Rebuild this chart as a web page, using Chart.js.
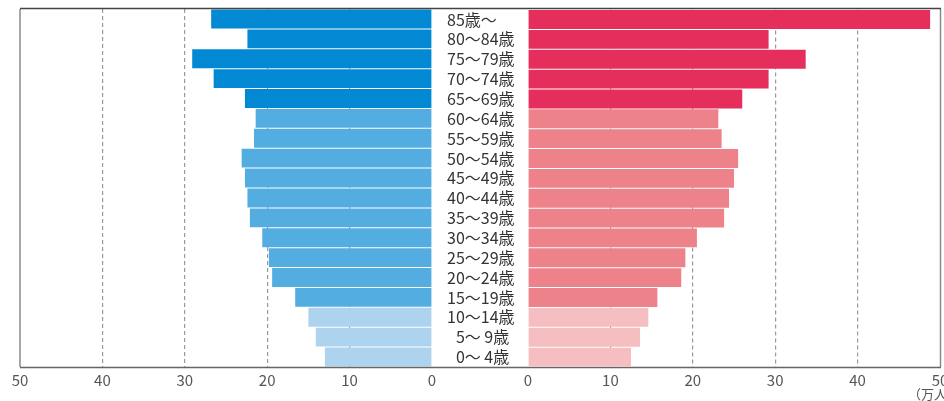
<!DOCTYPE html>
<html>
<head>
<meta charset="utf-8">
<script src="https://cdn.jsdelivr.net/npm/chart.js@4"></script>
<style>
  html, body { margin: 0; padding: 0; background: #fff; overflow: hidden; }
  #wrap { position: relative; width: 944px; height: 401px; overflow: hidden; }
  #pyr-male { position: absolute; left: 0; top: 0; }
  #pyr-female { position: absolute; left: 432px; top: 0; }
</style>
</head>
<body>
<div id="wrap">
  <canvas id="pyr-male" width="944" height="401"></canvas>
  <canvas id="pyr-female" width="540" height="401"></canvas>
</div>
<script>
/* ── Data (万人) ───────────────────────────────────── */
const ageLabels = ['85歳～', '80～84歳', '75～79歳', '70～74歳', '65～69歳', '60～64歳',
  '55～59歳', '50～54歳', '45～49歳', '40～44歳', '35～39歳', '30～34歳', '25～29歳',
  '20～24歳', '15～19歳', '10～14歳', '\u20075～ 9歳', '\u20070～ 4歳'];
const maleValues = [26.8, 22.4, 29.1, 26.5, 22.7, 21.4, 21.6, 23.1, 22.7, 22.4,
  22.1, 20.6, 19.8, 19.4, 16.6, 15.0, 14.1, 13.0];
const femaleValues = [48.8, 29.2, 33.7, 29.2, 26.0, 23.1, 23.5, 25.5, 25.0, 24.4,
  23.8, 20.5, 19.1, 18.6, 15.7, 14.6, 13.6, 12.5];
const axisTicks = [0, 10, 20, 30, 40, 50];

// age band of each row: 0 = 65+, 1 = 15-64, 2 = 0-14
const ageBand = ageLabels.map((l, i) => (i < 5 ? 0 : i < 15 ? 1 : 2));
const maleColors = ['#0389d4', '#54ade1', '#aed3ef'];
const femaleColors = ['#e62e5d', '#ee828b', '#f5bec1'];

const FONT = "'Noto Sans CJK JP', 'Noto Sans', sans-serif";

function xScale(reverse) {
  return {
    type: 'linear',
    reverse,
    min: 0,
    max: 50,
    afterBuildTicks: (s) => { s.ticks = axisTicks.map((v) => ({ value: v })); },
    ticks: { color: '#555', font: { family: FONT, size: 15 }, padding: 4, maxRotation: 0, autoSkip: false },
    grid: {
      drawTicks: false,
      color: (c) => (c.tick && (c.tick.value === 0 || c.tick.value === 50) ? 'rgba(0,0,0,0)' : '#9a9a9a'),
      lineWidth: 1.2,
    },
    border: { display: false, dash: [4, 3] },
  };
}

// frame + unit label, drawn on the full-width male canvas
const framePlugin = {
  id: 'frame',
  afterDraw(chart) {
    const { ctx, chartArea } = chart;
    const top = chartArea.top, bottom = chartArea.bottom;
    ctx.save();
    ctx.lineWidth = 1.5;
    ctx.strokeStyle = '#8a8a8a';
    ctx.beginPath();
    ctx.moveTo(20, top); ctx.lineTo(20, bottom);
    ctx.moveTo(940.5, top); ctx.lineTo(940.5, bottom);
    ctx.stroke();
    ctx.strokeStyle = '#666';
    ctx.beginPath();
    ctx.moveTo(20, bottom + 0.5); ctx.lineTo(941, bottom + 0.5);
    ctx.stroke();
    ctx.strokeStyle = '#444';
    ctx.beginPath();
    ctx.moveTo(20, top - 0.5); ctx.lineTo(941, top - 0.5);
    ctx.stroke();
    ctx.fillStyle = '#555';
    ctx.font = '13px ' + FONT;
    ctx.textBaseline = 'middle';
    ctx.fillText('（万人）', 908, 394);
    ctx.restore();
  },
};

new Chart(document.getElementById('pyr-male'), {
  type: 'bar',
  data: {
    labels: ageLabels,
    datasets: [{
      data: maleValues,
      backgroundColor: ageBand.map((b) => maleColors[b]),
      borderWidth: 0,
      barPercentage: 0.95,
      categoryPercentage: 1,
    }],
  },
  options: {
    indexAxis: 'y',
    responsive: false,
    animation: false,
    devicePixelRatio: 1,
    layout: { padding: { top: 9, left: 20, right: 512, bottom: 8 } },
    plugins: { legend: { display: false }, tooltip: { enabled: false } },
    scales: {
      x: xScale(true),
      y: { type: 'category', display: false },
    },
  },
  plugins: [framePlugin],
});

new Chart(document.getElementById('pyr-female'), {
  type: 'bar',
  data: {
    labels: ageLabels,
    datasets: [{
      data: femaleValues,
      backgroundColor: ageBand.map((b) => femaleColors[b]),
      borderWidth: 0,
      barPercentage: 0.95,
      categoryPercentage: 1,
    }],
  },
  options: {
    indexAxis: 'y',
    responsive: false,
    animation: false,
    devicePixelRatio: 1,
    layout: { padding: { top: 9, left: 15, right: 32, bottom: 8 } },
    plugins: { legend: { display: false }, tooltip: { enabled: false } },
    scales: {
      x: xScale(false),
      y: {
        type: 'category',
        afterFit: (s) => { s.width = 81; },
        ticks: { color: '#333', font: { family: FONT, size: 16 }, crossAlign: 'far', padding: 0, autoSkip: false },
        grid: { display: false },
        border: { display: false },
      },
    },
  },
});
</script>
</body>
</html>
